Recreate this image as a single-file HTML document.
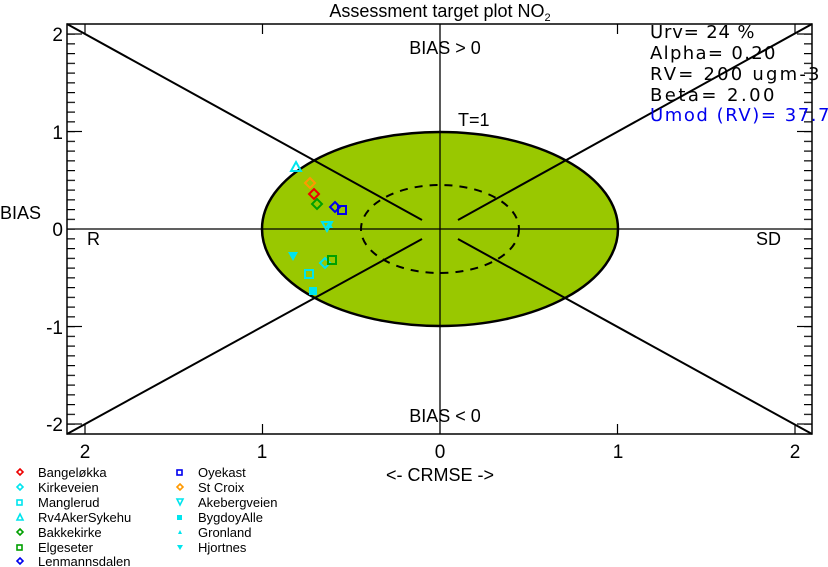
<!DOCTYPE html>
<html><head><meta charset="utf-8"><style>
html,body{margin:0;padding:0;background:#fff;}
svg{display:block;font-family:"Liberation Sans",sans-serif;}
</style></head><body>
<svg width="828" height="567" viewBox="0 0 828 567" xmlns="http://www.w3.org/2000/svg">
<defs>
<pattern id="py" patternUnits="userSpaceOnUse" x="0" y="228.5" width="828" height="9.75"><rect x="0" y="0" width="828" height="1.2" fill="#000"/></pattern>
</defs>
<rect width="828" height="567" fill="#fff"/>
<text x="440" y="17" font-size="18" text-anchor="middle">Assessment target plot NO<tspan font-size="11" dy="4">2</tspan></text>
<ellipse cx="440" cy="229" rx="178" ry="97" fill="#99c800" stroke="#000" stroke-width="2.5"/>
<ellipse cx="440" cy="229" rx="79" ry="44" fill="none" stroke="#000" stroke-width="2" stroke-dasharray="8,7"/>
<line x1="67" y1="229" x2="812" y2="229" stroke="#000" stroke-width="1.3"/>
<line x1="440" y1="24" x2="440" y2="434" stroke="#000" stroke-width="1.3"/>
<g stroke="#000" stroke-width="2">
<line x1="67" y1="24" x2="422" y2="220"/>
<line x1="458" y1="239" x2="812" y2="434"/>
<line x1="812" y1="24" x2="458" y2="220"/>
<line x1="422" y1="239" x2="67" y2="434"/>
</g>
<rect x="67" y="29" width="8" height="402" fill="url(#py)"/>
<rect x="804" y="29" width="8" height="402" fill="url(#py)"/>
<g stroke="#000" stroke-width="1.2">
<line x1="67" y1="34" x2="82" y2="34"/><line x1="67" y1="131.5" x2="82" y2="131.5"/><line x1="67" y1="326.5" x2="82" y2="326.5"/><line x1="67" y1="424" x2="82" y2="424"/>
<line x1="797" y1="34" x2="812" y2="34"/><line x1="797" y1="131.5" x2="812" y2="131.5"/><line x1="797" y1="326.5" x2="812" y2="326.5"/><line x1="797" y1="424" x2="812" y2="424"/>
<line x1="85" y1="434" x2="85" y2="424"/><line x1="262.5" y1="434" x2="262.5" y2="424"/><line x1="617.5" y1="434" x2="617.5" y2="424"/><line x1="795" y1="434" x2="795" y2="424"/>
<line x1="85" y1="24" x2="85" y2="34"/><line x1="262.5" y1="24" x2="262.5" y2="34"/><line x1="617.5" y1="24" x2="617.5" y2="34"/><line x1="795" y1="24" x2="795" y2="34"/>
</g>
<rect x="67" y="24" width="745" height="410" fill="none" stroke="#000" stroke-width="1.5"/>
<g font-size="19" text-anchor="end">
<text x="63" y="41">2</text><text x="63" y="139">1</text><text x="63" y="236">0</text><text x="63" y="334">-1</text><text x="63" y="431">-2</text>
</g>
<g font-size="19" text-anchor="middle">
<text x="85" y="458">2</text><text x="262" y="458">1</text><text x="440" y="458">0</text><text x="618" y="458">1</text><text x="795" y="458">2</text>
</g>
<text x="440" y="481" font-size="18" text-anchor="middle">&lt;- CRMSE -&gt;</text>
<text x="0" y="219" font-size="18">BIAS</text>
<text x="87" y="245" font-size="18">R</text>
<text x="756" y="245" font-size="18">SD</text>
<text x="445" y="54" font-size="18" text-anchor="middle">BIAS &gt; 0</text>
<text x="445" y="422" font-size="18" text-anchor="middle">BIAS &lt; 0</text>
<text x="458" y="126" font-size="18">T=1</text>
<g font-size="18" font-family="'DejaVu Sans',sans-serif" letter-spacing="0.5">
<text x="650" y="38" textLength="105">Urv= 24 %</text>
<text x="650" y="59" textLength="126">Alpha= 0.20</text>
<text x="650" y="80" textLength="170">RV= 200 ugm-3</text>
<text x="650" y="101" textLength="125">Beta= 2.00</text>
<text x="650" y="121" fill="#0000ee" textLength="180">Umod (RV)= 37.7</text>
</g>
<g fill="none" stroke-width="2">
<polygon points="296,162 301,171 291,171" stroke="#00e5ee"/>
<polygon points="310,178 315,183 310,188 305,183" stroke="#ff9900"/>
<polygon points="314,189 319,194 314,199 309,194" stroke="#ee0000"/>
<polygon points="317,199 322,204 317,209 312,204" stroke="#00a000"/>
<polygon points="335,202 340,207 335,212 330,207" stroke="#0000ee"/>
<rect x="338" y="206" width="8" height="8" stroke="#0000ee"/>
<polygon points="322,222 332,222 327,231" stroke="#00e5ee"/>
<polygon points="325,258 330,263 325,268 320,263" stroke="#00e5ee"/>
<rect x="328" y="256" width="8" height="8" stroke="#00a000"/>
<rect x="305" y="270" width="8" height="8" stroke="#00e5ee"/>
</g>
<polygon points="288,252 298,252 293,261" fill="#00e5ee"/>
<polygon points="329,221 333,228 325,228" fill="#00e5ee"/>
<rect x="309" y="287" width="8" height="8" fill="#00e5ee"/>
<g font-size="13">
<text x="38" y="477">Bangeløkka</text><text x="38" y="492">Kirkeveien</text><text x="38" y="507">Manglerud</text><text x="38" y="522">Rv4AkerSykehu</text><text x="38" y="537">Bakkekirke</text><text x="38" y="552">Elgeseter</text><text x="38" y="566">Lenmannsdalen</text>
<text x="198" y="477">Oyekast</text><text x="198" y="492">St Croix</text><text x="198" y="507">Akebergveien</text><text x="198" y="522">BygdoyAlle</text><text x="198" y="537">Gronland</text><text x="198" y="552">Hjortnes</text>
</g>
<g fill="none" stroke-width="1.6">
<polygon points="20,469 23,472 20,475 17,472" stroke="#ee0000"/>
<polygon points="20,484 23,487 20,490 17,487" stroke="#00e5ee"/>
<rect x="17" y="500" width="5" height="5" stroke="#00e5ee"/>
<polygon points="20,514 23,520 17,520" stroke="#00e5ee"/>
<polygon points="20,529 23,532 20,535 17,532" stroke="#00a000"/>
<rect x="17" y="545" width="5" height="5" stroke="#00a000"/>
<polygon points="20,558 23,561 20,564 17,561" stroke="#0000ee"/>
<rect x="177" y="470" width="5" height="5" stroke="#0000ee"/>
<polygon points="180,484 183,487 180,490 177,487" stroke="#ff9900"/>
<polygon points="177,499 183,499 180,505" stroke="#00e5ee"/>
</g>
<rect x="177" y="515" width="5" height="5" fill="#00e5ee"/>
<polygon points="180,530 182,534 178,534" fill="#00e5ee"/>
<polygon points="177,545 183,545 180,550" fill="#00e5ee"/>
</svg>
</body></html>
